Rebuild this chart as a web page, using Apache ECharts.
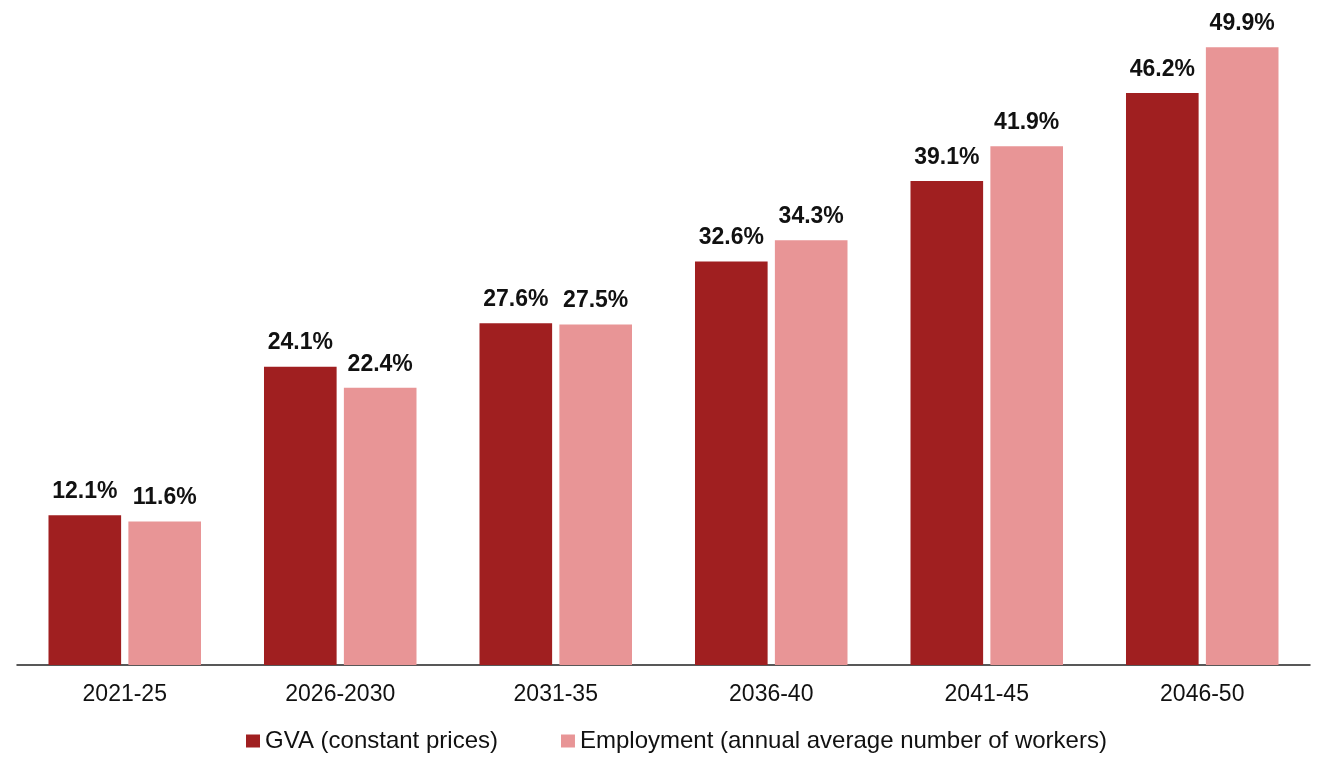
<!DOCTYPE html>
<html>
<head>
<meta charset="utf-8">
<script src="https://cdn.jsdelivr.net/npm/echarts@6/dist/echarts.min.js"></script>
<style>
  html, body { margin: 0; padding: 0; background: #fff; }
  #chart { width: 1321px; height: 759px; }
</style>
</head>
<body>
<div id="chart"></div>
<script>
const periods = ['2021-25', '2026-2030', '2031-35', '2036-40', '2041-45', '2046-50']
const gva = [12.1, 24.1, 27.6, 32.6, 39.1, 46.2]
const employment = [11.6, 22.4, 27.5, 34.3, 41.9, 49.9]

const FONT = '"Liberation Sans", Arial, sans-serif'

const labelStyle = {
  show: true,
  position: 'top',
  distance: 12,
  color: '#111',
  fontFamily: FONT,
  fontSize: 23,
  fontWeight: 'bold',
  formatter: (p) => p.value.toFixed(1) + '%',
}

const chart = echarts.init(document.getElementById('chart'))
chart.setOption({
  animation: false,
  textStyle: { fontFamily: FONT },
  grid: { left: 17, right: 11, top: 46, bottom: 94 },
  legend: {
    bottom: 1,
    left: 241,
    itemWidth: 14,
    itemHeight: 13,
    itemGap: 63,
    icon: 'rect',
    textStyle: { fontFamily: FONT, fontSize: 24, color: '#111', padding: [0, 0, 0, 0] },
    data: ['GVA (constant prices)', 'Employment (annual average number of workers)'],
  },
  xAxis: {
    type: 'category',
    data: periods,
    axisLine: { lineStyle: { color: '#222', width: 1.5 } },
    axisTick: { show: false },
    axisLabel: { fontFamily: FONT, fontSize: 23, color: '#111', margin: 18 },
  },
  yAxis: {
    type: 'value',
    min: 0,
    max: 50,
    show: false,
  },
  series: [
    {
      name: 'GVA (constant prices)',
      type: 'bar',
      data: gva,
      barWidth: '33.7%',
      barGap: '10%',
      itemStyle: { color: '#A01F20' },
      label: labelStyle,
    },
    {
      name: 'Employment (annual average number of workers)',
      type: 'bar',
      data: employment,
      barWidth: '33.7%',
      itemStyle: { color: '#E89596' },
      label: labelStyle,
    },
  ],
})
</script>
</body>
</html>
